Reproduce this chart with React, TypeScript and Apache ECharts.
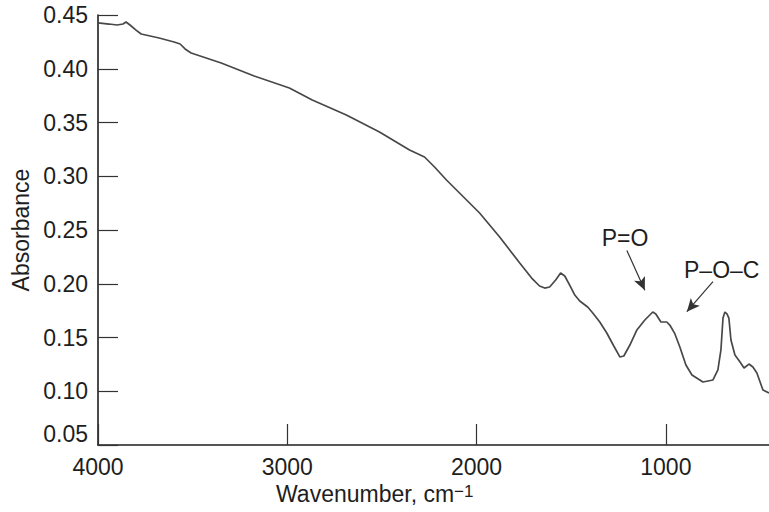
import React, { useEffect, useRef } from "react";
import * as echarts from "echarts";

// Wavenumber (cm^-1) and absorbance
const wavenumbers = [
  4000, 3942, 3899, 3868, 3852, 3831, 3799, 3772, 3677, 3598, 3566, 3540, 3508,
  3349, 3175, 2989, 2868, 2688, 2513, 2354, 2275, 2222, 2159, 2090, 1984, 1878,
  1772, 1709, 1667, 1640, 1614, 1582, 1556, 1534, 1508, 1481, 1455, 1413, 1386,
  1349, 1312, 1275, 1243, 1222, 1190, 1153, 1111, 1069, 1053, 1026, 995, 979,
  952, 926, 894, 862, 804, 751, 725, 709, 698, 688, 677, 667, 656, 635, 608,
  587, 561, 540, 519, 487, 455,
];
const absorbance = [
  0.4426, 0.4416, 0.4407, 0.4416, 0.4435, 0.4407, 0.436, 0.4323, 0.4286, 0.4249,
  0.423, 0.4184, 0.4147, 0.4053, 0.3933, 0.3821, 0.3709, 0.357, 0.3412, 0.3244,
  0.3179, 0.3086, 0.2965, 0.2844, 0.2658, 0.2435, 0.2193, 0.2053, 0.1979, 0.196,
  0.197, 0.2035, 0.21, 0.2072, 0.1988, 0.1895, 0.184, 0.1784, 0.1728, 0.1644,
  0.1542, 0.1421, 0.1319, 0.1328, 0.143, 0.157, 0.1663, 0.1737, 0.1719, 0.1644,
  0.1644, 0.1616, 0.1533, 0.1412, 0.1244, 0.1151, 0.1086, 0.1105, 0.1198,
  0.1384, 0.1681, 0.1737, 0.1719, 0.1681, 0.1477, 0.1337, 0.1272, 0.1216,
  0.1253, 0.1226, 0.117, 0.1012, 0.0984,
];
const xTickValues = [4000, 3000, 2000, 1000];
// Annotation arrows: [start wavenumber, start absorbance, end wavenumber, end absorbance]
const arrowPO = [1206, 0.231, 1111, 0.194];
const arrowPOC = [751, 0.202, 889, 0.174];
const annotationLabels = ["P=O", "P–O–C"];

const FONT = "'Liberation Sans', Arial, Helvetica, sans-serif";
const INK = "#1e1e1e";
const FS = 23;

export default function App() {
  const ref = useRef<HTMLDivElement>(null);

  useEffect(() => {
    if (!ref.current) return;
    const chart = echarts.init(ref.current, null, { renderer: "svg" });
    const data = wavenumbers.map((w, i) => [w, absorbance[i]]);
    chart.setOption({
      animation: false,
      backgroundColor: "#ffffff",
      grid: { left: 98, right: 0, top: 15, bottom: 67, outerBoundsMode: "none" },
      xAxis: {
        type: "value",
        inverse: true,
        min: 455,
        max: 4000,
        axisLine: { show: true, lineStyle: { color: INK, width: 1.6 } },
        axisTick: {
          show: true,
          inside: true,
          length: 21,
          customValues: xTickValues,
          lineStyle: { color: "#333", width: 1.2 },
        },
        axisLabel: {
          customValues: xTickValues,
          color: INK,
          fontFamily: FONT,
          fontSize: FS,
          margin: 10,
          formatter: (v: number) => String(v),
        },
        splitLine: { show: false },
      },
      yAxis: {
        type: "value",
        min: 0.05,
        max: 0.45,
        interval: 0.05,
        name: "Absorbance",
        nameLocation: "middle",
        nameGap: 66,
        nameTextStyle: { color: INK, fontFamily: FONT, fontSize: FS },
        axisLine: { show: true, lineStyle: { color: INK, width: 1.6 } },
        axisTick: { show: true, inside: true, length: 20, lineStyle: { color: "#333", width: 1.2 } },
        axisLabel: {
          color: INK,
          fontFamily: FONT,
          fontSize: FS,
          margin: 10,
          formatter: (v: number) =>
            Math.abs(v - 0.05) < 1e-9 ? "{low|" + v.toFixed(2) + "}" : v.toFixed(2),
          rich: {
            low: { color: INK, fontFamily: FONT, fontSize: FS, padding: [0, 0, 22, 0] },
          },
        },
        splitLine: { show: false },
      },
      series: [
        {
          type: "line",
          data,
          showSymbol: false,
          smooth: false,
          lineStyle: { color: "#484848", width: 1.7 },
          markLine: {
            silent: true,
            symbol: ["none", "arrow"],
            symbolSize: [9, 13],
            label: { show: false },
            lineStyle: { color: "#333", width: 1.2, type: "solid" },
            data: [
              [{ coord: [arrowPO[0], arrowPO[1]] }, { coord: [arrowPO[2], arrowPO[3]] }],
              [{ coord: [arrowPOC[0], arrowPOC[1]] }, { coord: [arrowPOC[2], arrowPOC[3]] }],
            ],
          },
        },
      ],
      graphic: [
        {
          type: "text",
          x: 276,
          y: 494,
          style: {
            text: "{a|Wavenumber, cm}{s|−1}",
            verticalAlign: "middle",
            align: "left",
            rich: {
              a: { fontFamily: FONT, fontSize: FS, fill: INK, color: INK },
              s: {
                fontFamily: FONT,
                fontSize: 17,
                fill: INK,
                color: INK,
                verticalAlign: "top",
                lineHeight: 17,
                padding: [0, 0, 12, 0],
              },
            },
          },
        },
        {
          type: "text",
          x: 625,
          y: 238,
          style: {
            text: annotationLabels[0],
            fontFamily: FONT,
            fontSize: FS,
            fill: INK,
            align: "center",
            verticalAlign: "middle",
          },
        },
        {
          type: "text",
          x: 684,
          y: 270,
          style: {
            text: annotationLabels[1],
            fontFamily: FONT,
            fontSize: FS,
            fill: INK,
            align: "left",
            verticalAlign: "middle",
          },
        },
      ],
    });
    return () => chart.dispose();
  }, []);

  return (
    <div
      ref={ref}
      style={{ position: "absolute", left: 0, top: 0, width: 769, height: 512 }}
    />
  );
}
